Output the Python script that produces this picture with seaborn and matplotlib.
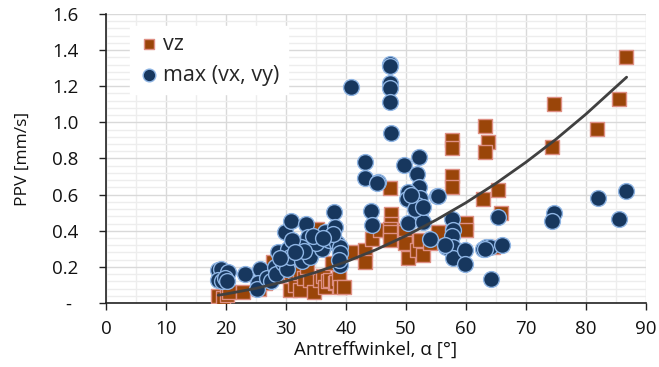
import matplotlib
matplotlib.use("Agg")
import matplotlib.pyplot as plt
import matplotlib.transforms as mtrans
import seaborn as sns
import pandas as pd
from matplotlib.ticker import MultipleLocator

# ---- data ----
vz_x = [18.7, 19.5, 20.1, 20.5, 22.9, 25.5, 26.5, 27.0, 27.9, 28.5, 29.5, 30.2, 30.9, 30.7,
        31.5, 32.3, 32.3, 33.0, 34.0, 34.6, 35.1, 35.7, 36.2, 36.5, 37.0, 37.6, 37.4, 38.2,
        38.4, 38.8, 39.0, 39.6, 31.5, 33.5,
        40.9, 43.2, 43.2, 44.3, 45.7, 47.4, 47.5, 47.5, 47.4, 47.4, 47.4, 49.8, 49.8, 49.8,
        50.4, 52.1, 51.8, 52.3, 52.9, 54.0, 55.4, 57.7, 57.7, 57.7, 57.7, 60.0, 60.0, 62.8,
        63.2, 63.7, 63.2, 65.4, 65.9, 64.6, 74.7, 74.4, 81.9, 85.6, 86.7]
vz_y = [0.039, 0.03, 0.044, 0.06, 0.063, 0.08, 0.11, 0.13, 0.229, 0.15, 0.18, 0.2, 0.164, 0.072,
        0.10, 0.164, 0.072, 0.14, 0.127, 0.063, 0.41, 0.127, 0.15, 0.09, 0.12, 0.22, 0.13, 0.109,
        0.118, 0.14, 0.09, 0.09, 0.30, 0.20,
        0.284, 0.293, 0.225, 0.353, 0.404, 0.635, 0.493, 0.437, 0.41, 0.395, 0.349, 0.404, 0.395, 0.33,
        0.247, 0.34, 0.293, 0.349, 0.266, 0.33, 0.395, 0.902, 0.856, 0.703, 0.641, 0.445, 0.404, 0.574,
        0.982, 0.893, 0.838, 0.626, 0.497, 0.312, 1.102, 0.862, 0.962, 1.13, 1.364]

max_x = [18.7, 19.2, 20.4, 18.7, 19.4, 19.8, 20.2, 23.1, 25.6, 25.4, 25.2, 26.9, 27.5, 28.2,
         28.3, 28.7, 29.5, 30.1, 29.8, 30.9, 30.4, 31.8, 30.7, 32.6, 33.4, 33.7, 34.8, 34.0,
         35.4, 36.5, 36.8, 38.0, 38.2, 37.5, 36.0, 35.0, 32.5, 31.0, 33.0, 34.5, 37.2, 38.5,
         39.0, 39.0, 39.0, 38.8, 37.8, 36.2, 31.5, 29.0,
         40.8, 47.4, 47.4, 47.3, 47.3, 47.3, 47.5, 43.2, 43.2, 45.4, 45.2, 49.7, 52.1, 51.9,
         55.2, 52.1, 50.4, 50.1, 52.3, 51.8, 52.3, 50.4, 52.9, 44.2, 44.4, 57.6, 57.8, 57.6,
         54.0, 56.7, 57.9, 57.8, 59.9, 59.9, 62.9, 63.4, 64.0, 63.2, 66.1, 64.1, 65.4, 74.7,
         74.4, 82.1, 85.6, 86.7, 51.5, 50.9, 52.8, 56.5, 55.4]
max_y = [0.18, 0.19, 0.17, 0.13, 0.12, 0.14, 0.12, 0.16, 0.19, 0.11, 0.08, 0.14, 0.12, 0.20,
         0.16, 0.28, 0.22, 0.19, 0.395, 0.456, 0.30, 0.32, 0.256, 0.23, 0.436, 0.364, 0.293, 0.256,
         0.358, 0.395, 0.33, 0.502, 0.42, 0.37, 0.30, 0.33, 0.31, 0.35, 0.29, 0.37, 0.35, 0.33,
         0.31, 0.275, 0.21, 0.24, 0.38, 0.36, 0.28, 0.25,
         1.194, 1.323, 1.31, 1.216, 1.19, 1.11, 0.943, 0.782, 0.69, 0.672, 0.662, 0.764, 0.806, 0.714,
         0.594, 0.644, 0.616, 0.574, 0.58, 0.543, 0.497, 0.445, 0.45, 0.511, 0.432, 0.463, 0.404, 0.371,
         0.353, 0.312, 0.308, 0.251, 0.293, 0.214, 0.297, 0.312, 0.312, 0.30, 0.321, 0.133, 0.475, 0.497,
         0.454, 0.583, 0.463, 0.622, 0.52, 0.60, 0.53, 0.32, 0.59]

trend_x = [18.7, 20, 25, 30, 35, 40, 45, 50, 55, 60, 65, 70, 75, 80, 86.8]
trend_y = [0.043, 0.050, 0.081, 0.121, 0.170, 0.228, 0.295, 0.372, 0.459, 0.555, 0.662, 0.779, 0.906, 1.045, 1.25]

x_ticks = [0, 10, 20, 30, 40, 50, 60, 70, 80, 90]
x_tick_labels = ["0", "10", "20", "30", "40", "50", "60", "70", "80", "90"]
y_ticks = [0, 0.2, 0.4, 0.6, 0.8, 1.0, 1.2, 1.4, 1.6]
y_tick_labels = ["-", "0.2", "0.4", "0.6", "0.8", "1.0", "1.2", "1.4", "1.6"]

series_vz = "vz"
series_max = "max (vx, vy)"
x_label = "Antreffwinkel, α [°]"
y_label = "PPV [mm/s]"

# ---- styling ----
sns.set_theme(style="white")
plt.rcParams["font.family"] = ["Open Sans", "DejaVu Sans"]

df_vz = pd.DataFrame({"x": vz_x, "y": vz_y})
df_max = pd.DataFrame({"x": max_x, "y": max_y})
df_tr = pd.DataFrame({"x": trend_x, "y": trend_y})

fig = plt.figure(figsize=(6.59, 3.67), dpi=100)
ax = fig.add_axes([0.161, 0.1744, 0.819, 0.7876])

sns.scatterplot(data=df_vz, x="x", y="y", ax=ax, marker="s", s=95,
                color="#9A4509", edgecolor="#DE8F84", linewidth=1.0,
                label=series_vz, zorder=3)
sns.scatterplot(data=df_max, x="x", y="y", ax=ax, marker="o", s=130,
                color="#17375E", edgecolor="#8EB4E3", linewidth=1.0,
                label=series_max, zorder=4)
sns.lineplot(data=df_tr, x="x", y="y", ax=ax, color="#404040", linewidth=2.0,
             zorder=5, legend=False)

ax.set_xlim(0, 90)
ax.set_ylim(0, 1.6)
ax.set_xticks(x_ticks)
ax.set_xticklabels(x_tick_labels)
ax.set_yticks(y_ticks)
ax.set_yticklabels(y_tick_labels)
ax.xaxis.set_minor_locator(MultipleLocator(5))
ax.yaxis.set_minor_locator(MultipleLocator(0.04))

ax.grid(which="major", color="#D9D9D9", linewidth=1.0, zorder=0)
ax.grid(which="minor", color="#EDEDED", linewidth=1.0, zorder=0)
ax.set_axisbelow(True)

for s in ["top", "right"]:
    ax.spines[s].set_visible(False)
for s in ["left", "bottom"]:
    ax.spines[s].set_color("#222222")
    ax.spines[s].set_linewidth(1.2)

ax.tick_params(axis="both", which="major", direction="out", length=5, width=1.0,
               color="#222222", labelsize=13.5, labelcolor="#111111",
               left=True, bottom=True)
ax.tick_params(axis="y", which="major", pad=15)
ax.tick_params(axis="x", which="major", pad=7)
ax.tick_params(axis="both", which="minor", length=0)

# the zero label "-" sits a bit left of the other labels' right edge
zero_lbl = ax.get_yticklabels()[0]
zero_lbl.set_transform(zero_lbl.get_transform() +
                       mtrans.ScaledTranslation(-5 / 72, 0, fig.dpi_scale_trans))

ax.set_xlabel(x_label, fontsize=13.5, color="#111111", labelpad=2)
ax.set_ylabel(y_label, fontsize=12.5, color="#111111", labelpad=15)

leg = ax.legend(loc="upper left", bbox_to_anchor=(0.044, 0.96), frameon=True,
                fontsize=15.5, handletextpad=0.15, borderpad=0.4, labelspacing=0.45,
                handlelength=1.0, markerscale=0.8, borderaxespad=0.0)
leg.get_frame().set_facecolor("white")
leg.get_frame().set_edgecolor("white")
leg.get_frame().set_alpha(1.0)
leg.get_frame().set_boxstyle("square", pad=0)
leg.set_zorder(10)

fig.savefig("out.png", dpi=100)
